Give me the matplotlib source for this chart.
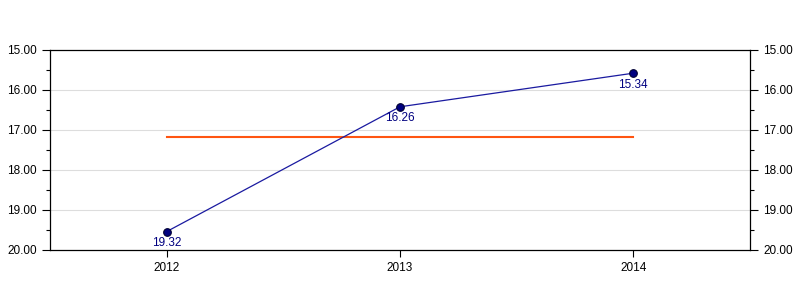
import matplotlib
matplotlib.use('Agg')
import numpy as np
import matplotlib.pyplot as plt
from matplotlib.ticker import MultipleLocator, FormatStrFormatter

plt.rcParams['font.family'] = ['Liberation Sans', 'DejaVu Sans']

# data
years = [2012, 2013, 2014]
values = [19.54, 16.42, 15.58]
value_labels = ['19.32', '16.26', '15.34']
average = np.mean(values)

fig = plt.figure(figsize=(8, 3), dpi=100)
ax = fig.add_axes([0.0625, 0.1667, 0.875, 0.6667])

# grid
for y in [16, 17, 18, 19]:
    ax.axhline(y, color='#dddddd', lw=0.8, zorder=0)

# average line
ax.plot([years[0], years[-1]], [average, average], color='#ff5511', lw=1.5, zorder=2)

# main series
ax.plot(years, values, color='#1a1aa0', lw=0.9, marker='o', ms=5.5,
        mfc='#000080', mec='#000033', mew=0.8, zorder=3)
for x, y, lab in zip(years, values, value_labels):
    ax.annotate(lab, (x, y), xytext=(0, -4), textcoords='offset points',
                ha='center', va='top', fontsize=8.5, color='#000080')

ax.set_xlim(2011.5, 2014.5)
ax.set_ylim(20, 15)
ax.set_xticks(years)
ax.set_xticklabels([str(y) for y in years])
ax.yaxis.set_major_locator(MultipleLocator(1))
ax.yaxis.set_minor_locator(MultipleLocator(0.5))
ax.yaxis.set_major_formatter(FormatStrFormatter('%.2f'))
ax.tick_params(axis='y', which='major', length=6, width=0.8, labelsize=8.5,
               left=True, right=True, labelleft=True, labelright=True, direction='out')
ax.tick_params(axis='y', which='minor', length=3, width=0.8, left=True, right=True, direction='out')
ax.tick_params(axis='x', length=5, width=0.8, labelsize=8.5, direction='out', top=False)

for s in ax.spines.values():
    s.set_linewidth(0.9)
    s.set_color('black')

fig.savefig('out.png', dpi=100)
